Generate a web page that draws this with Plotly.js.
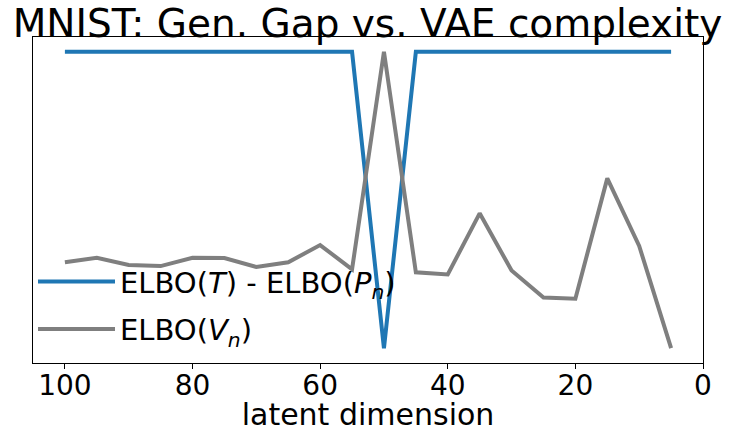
<!DOCTYPE html>
<html>
<head>
<meta charset="utf-8">
<script src="https://cdn.plot.ly/plotly-3.0.1.min.js"></script>
<style>
  html, body { margin: 0; padding: 0; background: #fff; }
  #chart { width: 735px; height: 432px; }
</style>
</head>
<body>
<div id="chart"></div>
<script>
// latent dimensions, largest first
const latentDims = [100, 95, 90, 85, 80, 75, 70, 65, 60, 55, 50, 45, 40, 35, 30, 25, 20, 15, 10, 5]

// normalised values
const genGap = [1, 1, 1, 1, 1, 1, 1, 1, 1, 1, 0, 1, 1, 1, 1, 1, 1, 1, 1, 1]
const elboVal = [0.290, 0.305, 0.281, 0.277, 0.305, 0.304, 0.274, 0.290, 0.348, 0.266,
    1.0, 0.256, 0.249, 0.455, 0.262, 0.171, 0.167, 0.573, 0.345, 0.0]

const xTicks = [100, 80, 60, 40, 20, 0]

const font = 'DejaVu Sans, sans-serif'

const traces = [
    {
        x: latentDims,
        y: genGap,
        mode: 'lines',
        name: 'ELBO(<i>T</i>) - ELBO(<i>P</i><sub><i>n</i></sub>)',
        legendgroup: 'gap',
        line: { color: '#1f77b4', width: 4 }
    },
    {
        x: latentDims,
        y: elboVal,
        mode: 'lines',
        name: 'ELBO(<i>V</i><sub><i>n</i></sub>)',
        legendgroup: 'val',
        line: { color: '#7f7f7f', width: 4 }
    }
]

const layout = {
    width: 735,
    height: 432,
    title: {
        text: 'MNIST: Gen. Gap vs. VAE complexity',
        font: { family: font, size: 39, color: '#000' },
        x: 0.5,
        xanchor: 'center',
        y: 0.946,
        yanchor: 'middle'
    },
    xaxis: {
        title: {
            text: 'latent dimension',
            font: { family: font, size: 30, color: '#000' }
        },
        range: [105, 0],
        tickvals: xTicks,
        ticktext: xTicks.map(String),
        tickfont: { family: font, size: 28, color: '#000' },
        ticks: 'outside',
        ticklen: 5,
        tickwidth: 1,
        tickcolor: '#000',
        ticklabelstandoff: -8,
        showgrid: false,
        zeroline: false,
        showline: true,
        linecolor: '#000',
        linewidth: 1.2,
        mirror: true,
        automargin: false
    },
    yaxis: {
        range: [-0.05, 1.05],
        showticklabels: false,
        ticks: '',
        showgrid: false,
        zeroline: false,
        showline: true,
        linecolor: '#000',
        linewidth: 1.2,
        mirror: true
    },
    legend: {
        x: 0.0,
        y: 0.328,
        xanchor: 'left',
        yanchor: 'top',
        bgcolor: 'rgba(0,0,0,0)',
        font: { family: font, size: 29, color: '#000' },
        itemwidth: 77,
        tracegroupgap: 7
    },
    showlegend: true,
    margin: { l: 33, r: 32, t: 37, b: 69 },
    paper_bgcolor: '#fff',
    plot_bgcolor: '#fff'
}

Plotly.newPlot('chart', traces, layout, { displayModeBar: false, staticPlot: true })
</script>
</body>
</html>
